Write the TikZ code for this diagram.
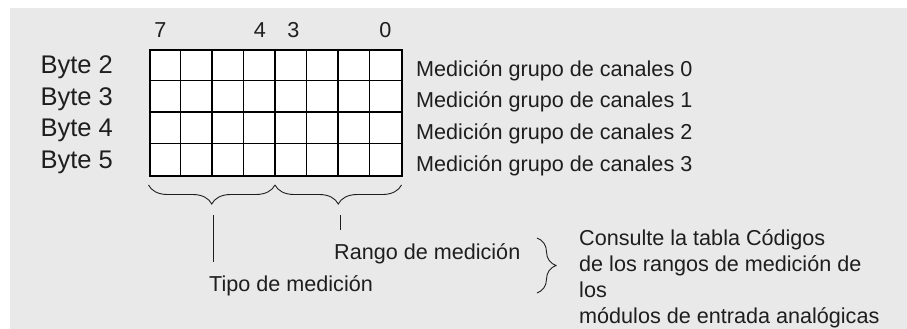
\documentclass[tikz,border=0pt]{standalone}
\usepackage{fontspec}
\setmainfont{Liberation Sans}
\usetikzlibrary{decorations.pathreplacing}
\definecolor{bgc}{HTML}{E9E9E9}
\definecolor{txt}{HTML}{1E1E1E}
\begin{document}
\begin{tikzpicture}[x=1pt,y=-1pt,
  lbl/.style={inner sep=0pt, text=txt, font=\fontsize{21.6}{26}\selectfont},
  big/.style={inner sep=0pt, text=txt, font=\fontsize{25.5}{30}\selectfont},
  gridline/.style={draw=black, line width=1.7pt},
  brc/.style={decorate, decoration={brace, amplitude=19pt}, draw=txt, line width=0.9pt},
  lead/.style={draw=txt, line width=1pt}]
\useasboundingbox (0,0) rectangle (907,329);
\fill[bgc] (10,8) rectangle (907,329);
% register grid
\node[gridline, fill=white, inner sep=0pt, minimum width=252pt, minimum height=126pt, anchor=north west] (grid) at (149,49) {};
\foreach \i in {1,...,7} \draw[gridline] (149+\i*31.5,49) -- (149+\i*31.5,175);
\foreach \j in {1,2,3} \draw[gridline] (149,49+\j*31.5) -- (401,49+\j*31.5);
% bit numbers
\node[lbl, anchor=base] (b7) at (160.5,37.5) {7};
\node[lbl, anchor=base] (b4) at (260,37.5) {4};
\node[lbl, anchor=base] (b3) at (293.5,37.5) {3};
\node[lbl, anchor=base] (b0) at (385.5,37.5) {0};
% byte labels
\node[big, anchor=base east] (y2) at (113,73.5) {Byte 2};
\node[big, anchor=base east] (y3) at (113,105) {Byte 3};
\node[big, anchor=base east] (y4) at (113,136.5) {Byte 4};
\node[big, anchor=base east] (y5) at (113,168) {Byte 5};
% group labels
\node[lbl, anchor=base west] (g0) at (416,76.5) {Medición grupo de canales 0};
\node[lbl, anchor=base west] (g1) at (416,107.5) {Medición grupo de canales 1};
\node[lbl, anchor=base west] (g2) at (416,139.5) {Medición grupo de canales 2};
\node[lbl, anchor=base west] (g3) at (416,171) {Medición grupo de canales 3};
% braces under the register
\coordinate (l1) at (148.5,185);
\coordinate (l2) at (275,185);
\coordinate (l3) at (401.5,185);
\draw[brc, decoration={mirror}] (l1) -- (l2);
\draw[brc, decoration={mirror}] (l2) -- (l3);
\coordinate (t1a) at (213,215);
\coordinate (t1b) at (213,262);
\coordinate (t2a) at (340,215);
\coordinate (t2b) at (340,230);
\draw[lead] (t1a) -- (t1b);
\draw[lead] (t2a) -- (t2b);
\node[lbl, anchor=base west] (tipo) at (209,291.5) {Tipo de medición};
\node[lbl, anchor=base west] (rango) at (334,259) {Rango de medición};
% right brace and note
\coordinate (r1) at (537,238);
\coordinate (r2) at (537,293);
\draw[brc] (r1) -- (r2);
\node[lbl, anchor=base west] (n1) at (579,245) {Consulte la tabla Códigos};
\node[lbl, anchor=base west] (n2) at (579,271) {de los rangos de medición de};
\node[lbl, anchor=base west] (n3) at (579,297) {los};
\node[lbl, anchor=base west] (n4) at (579,323) {módulos de entrada analógicas};
\end{tikzpicture}
\end{document}
